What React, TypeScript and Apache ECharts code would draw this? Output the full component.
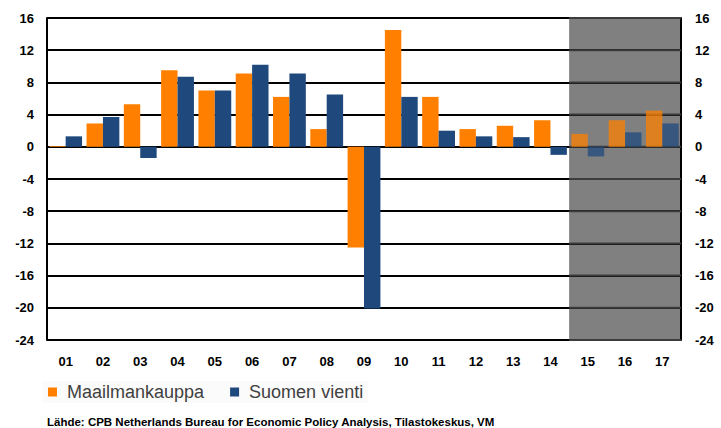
import React, { useEffect, useRef } from "react";
import * as echarts from "echarts";

const categories = ["01","02","03","04","05","06","07","08","09","10","11","12","13","14","15","16","17"];
const maailmankauppa = [0.1, 2.9, 5.3, 9.5, 7.0, 9.1, 6.2, 2.2, -12.5, 14.5, 6.2, 2.2, 2.6, 3.3, 1.6, 3.3, 4.5];
const suomenVienti = [1.3, 3.7, -1.4, 8.7, 7.0, 10.2, 9.1, 6.5, -20.1, 6.2, 2.0, 1.3, 1.2, -1.0, -1.2, 1.8, 2.9];
const yTicks = [16, 12, 8, 4, 0, -4, -8, -12, -16, -20, -24];
const forecastStart = 14; // index of "15"
const seriesNames = ["Maailmankauppa", "Suomen vienti"];
const sourceText = "Lähde: CPB Netherlands Bureau for Economic Policy Analysis, Tilastokeskus, VM";

const ORANGE = "#ff8000";
const BLUE = "#1f497d";
const FONT = "'Liberation Sans', Arial, sans-serif";

function styled(values: number[]) {
  return values.map((v, i) => (i >= forecastStart ? { value: v, itemStyle: { opacity: 0.75 } } : v));
}

export default function App() {
  const ref = useRef<HTMLDivElement>(null);
  useEffect(() => {
    if (!ref.current) return;
    const chart = echarts.init(ref.current, null, { renderer: "svg" });
    const axisLabel = { fontFamily: FONT, fontWeight: "bold" as const, fontSize: 13, color: "#000" };
    const sourceGraphic = {
      type: "text",
      id: "source",
      left: 47,
      top: 416,
      style: { text: sourceText, font: `bold 11.5px ${FONT}`, fill: "#000" },
    };
    chart.setOption({
      animation: false,
      backgroundColor: "#fff",
      grid: { left: 47, right: 40, top: 18, bottom: 88 },
      legend: {
        data: seriesNames,
        left: 43,
        top: 381,
        padding: [2, 5, 2, 5],
        backgroundColor: "#fbfbfb",
        icon: "rect",
        itemWidth: 9,
        itemHeight: 9,
        itemGap: 26,
        textStyle: { fontFamily: FONT, fontSize: 18, color: "#404040", padding: [0, 0, 0, 5] },
      },
      xAxis: [
        {
          type: "category",
          data: categories,
          z: 1,
          axisLine: { show: false },
          axisTick: { show: false },
          axisLabel: { ...axisLabel, margin: 15 },
        },
        {
          type: "value",
          min: 0,
          max: categories.length,
          interval: forecastStart,
          z: 0,
          axisLine: { show: false },
          axisTick: { show: false },
          axisLabel: { show: false },
          splitLine: { show: false },
          splitArea: { show: true, areaStyle: { color: ["rgba(0,0,0,0)", "#808080"] } },
        },
      ],
      yAxis: [
        {
          type: "value",
          min: -24,
          max: 16,
          interval: 4,
          z: 2,
          axisLine: { show: true, lineStyle: { color: "#000", width: 2 } },
          axisTick: { show: false },
          splitLine: { show: true, lineStyle: { color: "#000", width: 2 } },
          axisLabel: { ...axisLabel, margin: 13 },
        },
        {
          type: "value",
          min: -24,
          max: 16,
          interval: 4,
          position: "right",
          z: 3,
          axisLine: { show: true, lineStyle: { color: "#000", width: 2 } },
          axisTick: { show: false },
          splitLine: { show: false },
          axisLabel: { ...axisLabel, margin: 14 },
        },
      ],
      series: [
        {
          name: seriesNames[0],
          type: "bar",
          z: 8,
          data: styled(maailmankauppa),
          itemStyle: { color: ORANGE },
          barGap: "0%",
          barCategoryGap: "12%",
        },
        {
          name: seriesNames[1],
          type: "bar",
          z: 8,
          data: styled(suomenVienti),
          itemStyle: { color: BLUE },
          barGap: "0%",
          barCategoryGap: "12%",
        },
      ],
      graphic: [sourceGraphic],
    });

    // Grid lines inside the shaded forecast area, positioned through the chart's own scales
    const x0 = chart.convertToPixel({ xAxisIndex: 1 }, forecastStart) as number;
    const x1 = chart.convertToPixel({ xAxisIndex: 1 }, categories.length) as number;
    const lines = yTicks.map((v, i) => {
      const y = chart.convertToPixel({ yAxisIndex: 0 }, v) as number;
      return {
        type: "line",
        id: "fg" + i,
        z: 5,
        silent: true,
        shape: { x1: x0, y1: y, x2: x1, y2: y },
        style: { stroke: "#3c3c3c", lineWidth: 2 },
      };
    });
    chart.setOption({ graphic: [sourceGraphic, ...lines] });

    return () => chart.dispose();
  }, []);
  return <div ref={ref} style={{ width: 721, height: 428, position: "absolute", left: 0, top: 0 }} />;
}
